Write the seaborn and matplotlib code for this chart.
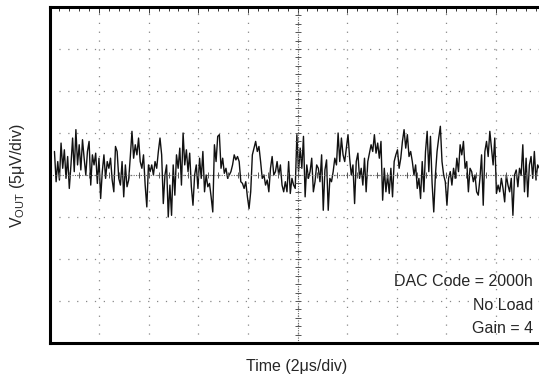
import numpy as np
import pandas as pd
import seaborn as sns
import matplotlib
matplotlib.use("Agg")
import matplotlib.pyplot as plt

# scope trace, in uV (5 uV per division), left to right
vout_part1 = [2.8, -0.8, 1.6, -0.6, 3.8, 0.8, 3.0, -0.4, 2.2, -1.6,
              1.2, 4.4, 0.4, 5.4, 1.2, 3.6, 0.6, 4.2, 2.0, 0.0,
              2.8, 4.0, -1.2, 2.4, 1.2, 2.6, -1.0, 2.0, -2.8, 0.4,
              2.4, -0.4, 1.6, 0.8, 2.0, -0.6, -2.0, 3.4, 2.8, -0.4,
              -1.2, 1.6, -2.6, 1.2, -1.4, -0.6, 2.2, 5.2, 2.0, 3.6,
              2.4, 4.4, 1.6, 0.8, 2.4, -1.2, -3.8, 1.2, 0.4, 1.2,
              0.0, 1.6, 0.8, 2.8, 4.4, 2.4, -3.4, 0.0, 1.2, -5.0]
vout_part2 = [-1.2, -4.8, 1.2, -2.4, 2.4, 0.8, 3.2, -1.2, 5.0, 1.2,
              3.0, 0.4, 2.6, -1.4, -3.6, 0.0, 1.2, -1.6, 2.0, -0.4,
              2.8, -2.0, 0.0, -1.4, -1.0, -2.6, -4.4, 3.6, 1.6, 4.6,
              4.8, 0.8, 2.0, 0.2, 0.8, -0.4, 0.0, 0.4, 1.2, 2.4,
              1.8, 2.2, 1.6, -0.8, -1.0, -1.6, -0.8, -2.6, -4.0, -2.0,
              2.4, 3.2, 4.0, 2.8, 3.4, 1.6, -0.4, 0.0, -1.2, -0.6,
              -2.0, 0.8, 2.2, 0.0, 0.4, 1.6, 0.0, 1.2, -1.2, -2.0,
              -0.8, -2.0, 1.6, -2.2, -0.4]
vout_part3 = [-1.2, -1.6, 4.8, 0.4, 3.2, 0.8, 4.6, -2.6, 1.2, -0.4,
              0.4, 2.0, -2.0, -0.8, 1.2, 0.8, -0.8, 2.4, -4.2, 0.6,
              1.8, -4.2, -0.4, -0.8, 0.4, 2.0, 1.2, 5.0, 1.6, 4.4,
              2.4, 1.6, 3.2, 4.8, 2.0, 0.0, 1.2, -3.4, 1.6, 2.6,
              -0.4, 0.8, -1.2, 2.0, -2.0, 1.6, 2.6, 3.6, 2.8, 4.8,
              2.6, 3.8, 2.0, 4.0, -3.0, 0.8, -2.0, 0.0, -2.2, 0.8,
              -2.6, 1.6, 2.4, 3.0, 0.8, 2.0, 4.0, 5.4, 3.2, 4.8,
              2.2, 2.8, 1.6, 0.0]
vout_part4 = [1.2, -1.6, -0.4, -2.8, 1.6, -2.0, 2.8, 5.2, 0.4, 4.6,
              -1.0, -4.4, 0.0, 2.8, 4.4, 5.8, 1.6, 0.0, -0.8, -3.6,
              -0.4, 0.4, -1.2, 0.8, -0.4, 2.0, 0.4, 3.6, 2.4, 4.0,
              0.8, 1.6, -2.0, 0.8, 0.4, -0.8, 0.0, -2.0, -2.4, -0.4,
              2.4, -3.6, 2.8, 4.0, 2.2, 5.2, 3.2, 1.2, 4.4, -2.2,
              -1.2, -2.0, -0.4, -1.6, -3.2, 0.0, -1.2, -2.0, -0.4, -4.8,
              0.0, 0.6, -1.4, 0.8, 0.0, 3.6, -2.0, 2.0, -2.6, 1.2,
              2.2, -0.4, 2.8, -0.6, 1.2, 0.8]

t_start, t_end = 0.2, 19.75   # us, where the visible trace begins and ends
x_range = (0, 20)             # 10 div x 2 us
y_range = (-20, 20)           # 8 div x 5 uV

vout = vout_part1 + vout_part2 + vout_part3 + vout_part4
df = pd.DataFrame({"t": np.linspace(t_start, t_end, len(vout)), "v": vout})

sns.set_style("white")
plt.rcParams["font.family"] = ["Liberation Sans", "DejaVu Sans"]
plt.rcParams["mathtext.fontset"] = "custom"
plt.rcParams["mathtext.rm"] = "Liberation Sans"

fig = plt.figure(figsize=(5.39, 3.84), dpi=100)
# right edge of the screen is cut off in the original
ax = fig.add_axes([49.5 / 539, 41 / 384, 496 / 539, 336 / 384])

sns.lineplot(data=df, x="t", y="v", ax=ax, color="#111111", lw=1.0)

ax.set_xlim(*x_range)
ax.set_ylim(*y_range)
ax.set_xticks(np.arange(0, 20.1, 2))
ax.set_yticks(np.arange(-20, 20.1, 5))
ax.set_xticks(np.arange(0, 20.1, 0.4), minor=True)
ax.set_yticks(np.arange(-20, 20.1, 1), minor=True)
ax.tick_params(which="both", direction="in", top=True, right=False,
               labelbottom=False, labelleft=False, color="#333", width=0.7)
ax.tick_params(which="major", length=4)
ax.tick_params(which="minor", length=3)
ax.grid(which="major", color="#888", lw=0.9, linestyle=(0, (1, 6.1)))

# centre cross with fine graduations
ax.axvline(10, color="#666", lw=0.8, linestyle=(0, (1, 1.2)))
ax.axhline(0, color="#666", lw=0.8, linestyle=(0, (1, 1.2)))
ax.plot(np.full(41, 10.0), np.arange(-20, 20.1, 1), ls="none", marker="_",
        ms=5, mew=0.7, color="#555")
ax.plot(np.arange(0, 20.1, 0.4), np.zeros(51), ls="none", marker="|",
        ms=5, mew=0.7, color="#555")

for s in ["left", "top", "bottom"]:
    ax.spines[s].set_linewidth(2.2)
    ax.spines[s].set_color("black")
ax.spines["right"].set_visible(False)
ax.set_xlabel("")
ax.set_ylabel("")

fig.text(297 / 539, 1 - 366 / 384, "Time (2\u03bcs/div)", ha="center",
         va="center", fontsize=11.5)
fig.text(18 / 539, 1 - 176 / 384, "V$_{\\mathrm{OUT}}$ (5\u03bcV/div)",
         rotation=90, ha="center", va="center", fontsize=11.5)
for txt, yb in [("DAC Code = 2000h", 286), ("No Load", 310), ("Gain = 4", 333)]:
    fig.text(533 / 539, 1 - yb / 384, txt, ha="right", va="baseline",
             fontsize=11.5)

fig.savefig("out.png", dpi=100)
